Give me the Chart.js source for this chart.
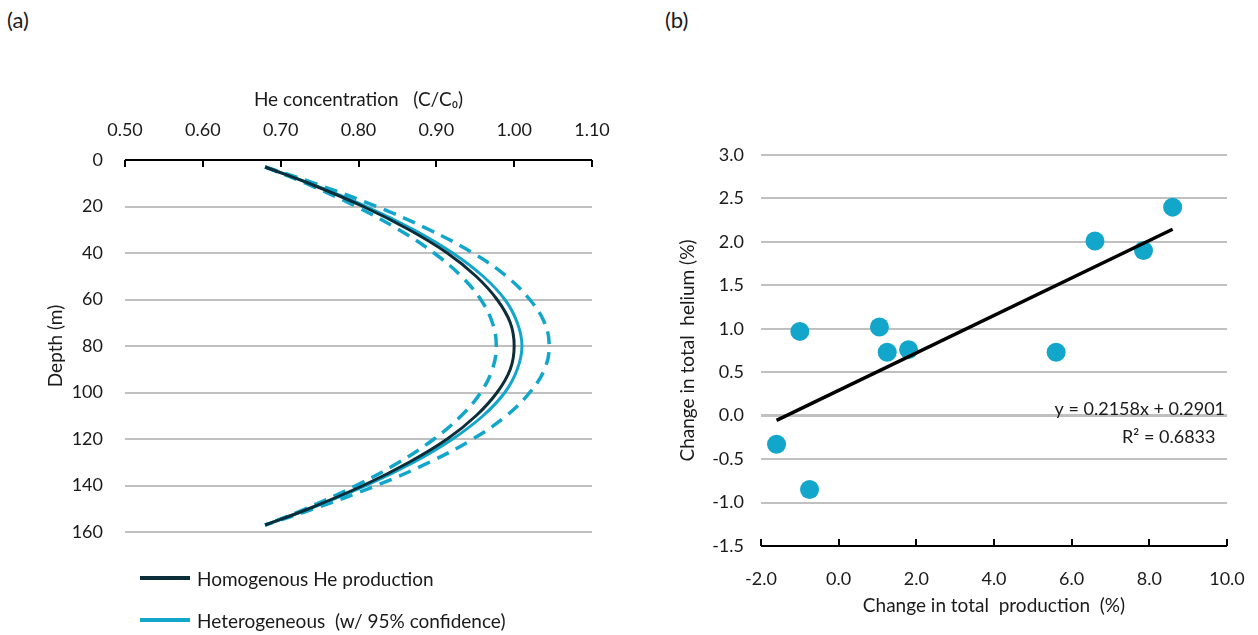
<!DOCTYPE html>
<html>
<head>
<meta charset="utf-8">
<script src="https://cdn.jsdelivr.net/npm/chart.js@4/dist/chart.umd.min.js"></script>
<style>
  body { margin: 0; width: 1258px; height: 635px; background: #fff; font-family: Lato, "Liberation Sans", sans-serif; color: #1a1a1a; overflow: hidden; position: relative; }
  canvas { position: absolute; }
  #chartA { left: 0; top: 0; }
  #chartB { left: 640px; top: 0; }
  .panel { position: absolute; font-size: 22px; }
  .legend { position: absolute; left: 140px; font-size: 19px; white-space: pre; }
  .legend div { display: flex; align-items: center; height: 42px; }
  .legend span.line { display: inline-block; width: 50px; height: 4px; margin-right: 7px; }
</style>
</head>
<body>
<div class="panel" style="left:7px; top:6px;">(a)</div>
<div class="panel" style="left:665px; top:6px;">(b)</div>
<canvas id="chartA" width="640" height="580"></canvas>
<canvas id="chartB" width="640" height="635"></canvas>
<div class="legend" id="legendA" style="top:557px;"></div>

<script>
// ----- (a) depth profiles -----
const depths = [3, 10, 20, 30, 40, 50, 60, 70, 80, 90, 100, 110, 120, 130, 140, 150, 157];
const homogenous = [0.680, 0.736, 0.806, 0.865, 0.914, 0.951, 0.978, 0.995, 1.000, 0.995, 0.978, 0.951, 0.914, 0.865, 0.806, 0.736, 0.680];
const heterogeneous = [0.680, 0.737, 0.810, 0.871, 0.921, 0.960, 0.988, 1.004, 1.010, 1.004, 0.988, 0.960, 0.921, 0.871, 0.810, 0.737, 0.680];
const heteroUpper = [0.680, 0.743, 0.823, 0.891, 0.947, 0.990, 1.020, 1.039, 1.045, 1.039, 1.020, 0.990, 0.947, 0.891, 0.823, 0.743, 0.680];
const heteroLower = [0.680, 0.732, 0.797, 0.852, 0.897, 0.932, 0.957, 0.972, 0.977, 0.972, 0.957, 0.932, 0.897, 0.852, 0.797, 0.732, 0.680];
const concTicks = [0.5, 0.6, 0.7, 0.8, 0.9, 1.0, 1.1];
const depthTicks = [0, 20, 40, 60, 80, 100, 120, 140, 160];

// ----- (b) scatter -----
const prodChange = [-1.6, -0.75, -1.0, 1.05, 1.25, 1.8, 5.6, 6.6, 7.85, 8.6];
const heliumChange = [-0.33, -0.85, 0.97, 1.02, 0.73, 0.76, 0.73, 2.01, 1.9, 2.4];
const trendX = [-1.6, 8.6];
const trendY = [-0.055, 2.146];
const prodTicks = [-2, 0, 2, 4, 6, 8, 10];
const heliumTicks = [-1.5, -1.0, -0.5, 0.0, 0.5, 1.0, 1.5, 2.0, 2.5, 3.0];

const DARK = '#0c2e3b';
const CYAN = '#12a6cb';
const GRID = '#c0c0c0';
const TXT = '#1a1a1a';
const FONT = 'Lato, "Liberation Sans", sans-serif';

function pts(xs, ys) {
  return xs.map((x, i) => ({ x: x, y: ys[i] }));
}

// axis line with short ticks pointing into the plot
const innerTicks = {
  id: 'innerTicks',
  afterDatasetsDraw(chart, args, opts) {
    const s = chart.scales.x;
    const ctx = chart.ctx;
    const atTop = opts.side === 'top';
    const y = atTop ? chart.chartArea.top : chart.chartArea.bottom;
    const dir = atTop ? 1 : -1;
    ctx.save();
    ctx.strokeStyle = '#000';
    ctx.lineWidth = 2;
    ctx.beginPath();
    ctx.moveTo(s.left, y);
    ctx.lineTo(s.right, y);
    s.ticks.forEach(t => {
      const px = Math.round(s.getPixelForValue(t.value));
      ctx.moveTo(px, y);
      ctx.lineTo(px, y + dir * 7);
    });
    ctx.stroke();
    ctx.restore();
  }
};

// trendline label
const eqLabel = {
  id: 'eqLabel',
  afterDatasetsDraw(chart) {
    const ctx = chart.ctx;
    const x = chart.scales.x, y = chart.scales.y;
    ctx.save();
    ctx.fillStyle = TXT;
    ctx.font = '18px ' + FONT;
    ctx.textBaseline = 'middle';
    ctx.textAlign = 'right';
    ctx.fillText('y = 0.2158x + 0.2901', x.getPixelForValue(9.95), y.getPixelForValue(0.07));
    ctx.textAlign = 'center';
    ctx.fillText('R² = 0.6833', x.getPixelForValue(8.5), y.getPixelForValue(-0.25));
    ctx.restore();
  }
};

function tickFont() {
  return { family: FONT, size: 18 };
}
function titleFont() {
  return { family: FONT, size: 19 };
}

// ----- chart (a) -----
const aSets = [
  { label: 'Homogenous He production', data: pts(homogenous, depths), borderColor: DARK, borderWidth: 3, order: 0 },
  { label: 'Heterogeneous  (w/ 95% confidence)', data: pts(heterogeneous, depths), borderColor: CYAN, borderWidth: 3, order: 1 },
  { label: 'upper', data: pts(heteroUpper, depths), borderColor: CYAN, borderWidth: 3.5, borderDash: [13, 8], order: 2 },
  { label: 'lower', data: pts(heteroLower, depths), borderColor: CYAN, borderWidth: 3.5, borderDash: [13, 8], order: 3 }
];
aSets.forEach(d => { d.showLine = true; d.pointRadius = 0; d.tension = 0.4; d.fill = false; });

new Chart(document.getElementById('chartA'), {
  type: 'scatter',
  data: { datasets: aSets },
  options: {
    responsive: false,
    animation: false,
    layout: { padding: { left: 0, top: 0, right: 48, bottom: 48 } },
    plugins: { legend: { display: false }, tooltip: { enabled: false }, innerTicks: { side: 'top' } },
    scales: {
      x: {
        type: 'linear', position: 'top', min: 0.5, max: 1.1,
        afterBuildTicks: s => { s.ticks = concTicks.map(v => ({ value: v })); },
        afterFit: s => { s.height = 160; },
        grid: { display: false },
        border: { display: false },
        ticks: { font: tickFont(), color: TXT, padding: 11, callback: v => v.toFixed(2) },
        title: { display: true, text: 'He concentration   (C/C₀)', font: titleFont(), color: TXT, padding: { top: 88 } }
      },
      y: {
        type: 'linear', reverse: true, min: 0, max: 160,
        afterBuildTicks: s => { s.ticks = depthTicks.map(v => ({ value: v })); },
        afterFit: s => { s.width = 125; },
        grid: { color: GRID, lineWidth: 2, drawTicks: false },
        border: { display: false },
        ticks: { font: tickFont(), color: TXT, padding: 22 },
        title: { display: true, text: 'Depth (m)', font: titleFont(), color: TXT, padding: { top: 44 } }
      }
    }
  },
  plugins: [innerTicks]
});

// legend for (a), built from the first two datasets
const legendA = document.getElementById('legendA');
aSets.slice(0, 2).forEach(d => {
  const row = document.createElement('div');
  const line = document.createElement('span');
  line.className = 'line';
  line.style.background = d.borderColor;
  row.appendChild(line);
  row.appendChild(document.createTextNode(d.label));
  legendA.appendChild(row);
});

// ----- chart (b) -----
new Chart(document.getElementById('chartB'), {
  type: 'scatter',
  data: {
    datasets: [
      { label: 'trend', data: pts(trendX, trendY), showLine: true, pointRadius: 0, borderColor: '#000', borderWidth: 3.5, order: 0 },
      { label: 'runs', data: pts(prodChange, heliumChange), pointRadius: 9.5, pointBackgroundColor: CYAN, pointBorderColor: CYAN, pointBorderWidth: 0, order: 1 }
    ]
  },
  options: {
    responsive: false,
    animation: false,
    layout: { padding: { left: 0, top: 155, right: 53, bottom: 0 } },
    plugins: { legend: { display: false }, tooltip: { enabled: false }, innerTicks: { side: 'bottom' } },
    scales: {
      x: {
        type: 'linear', min: -2, max: 10,
        afterBuildTicks: s => { s.ticks = prodTicks.map(v => ({ value: v })); },
        afterFit: s => { s.height = 89; },
        grid: { display: false },
        border: { display: false },
        ticks: { font: tickFont(), color: TXT, padding: 14, callback: v => v.toFixed(1) },
        title: { display: true, text: 'Change in total  production  (%)', font: titleFont(), color: TXT, padding: { bottom: 18 } }
      },
      y: {
        type: 'linear', min: -1.5, max: 3,
        afterBuildTicks: s => { s.ticks = heliumTicks.map(v => ({ value: v })); },
        afterFit: s => { s.width = 121; },
        grid: { color: GRID, lineWidth: c => (c.tick && c.tick.value === 0 ? 3 : 2), drawTicks: false },
        border: { display: false },
        ticks: { font: tickFont(), color: TXT, padding: 17, callback: v => v.toFixed(1) },
        title: { display: true, text: 'Change in total  helium (%)', font: titleFont(), color: TXT, padding: { top: 36 } }
      }
    }
  },
  plugins: [innerTicks, eqLabel]
});
</script>
</body>
</html>
